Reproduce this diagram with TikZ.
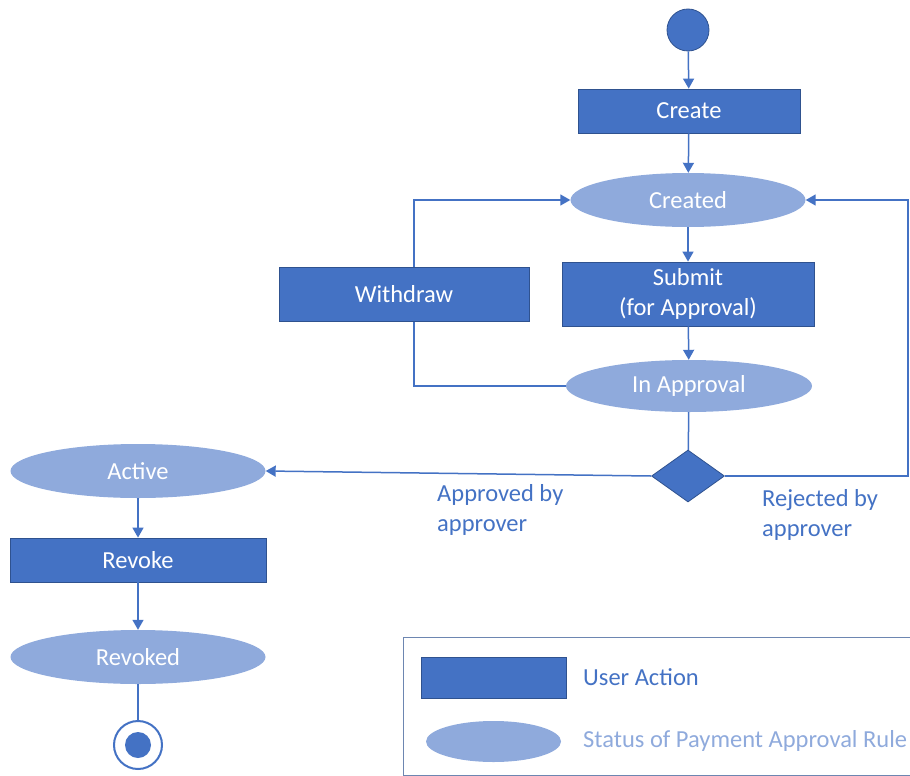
\documentclass[tikz,border=0pt]{standalone}
\usepackage{fontspec}
\setmainfont{Carlito}
\usetikzlibrary{shapes.geometric,arrows.meta}
\definecolor{dblue}{HTML}{4472C4}
\definecolor{lblue}{HTML}{8FAADC}
\definecolor{bord}{HTML}{2F528F}
\tikzset{
  actbox/.style={rectangle,fill=dblue,draw=bord,line width=0.8pt,text=white,font=\fontsize{24.5}{29.5}\selectfont,inner sep=0pt,align=center},
  statell/.style={ellipse,fill=lblue,draw=none,text=white,font=\fontsize{24.5}{29.5}\selectfont,inner sep=0pt},
  conn/.style={draw=dblue,line width=1.5pt},
  arr/.style={conn,-{Triangle[length=10pt,width=11pt]}},
  lbl/.style={text=dblue,font=\fontsize{24.5}{30}\selectfont,align=left,inner sep=0pt,anchor=west},
}
\begin{document}
\begin{tikzpicture}[x=1pt,y=-1pt]
\useasboundingbox (0,0) rectangle (910,776);
% nodes
\node[circle,fill=dblue,draw=bord,line width=0.8pt,minimum size=42pt,inner sep=0pt] (start) at (688,30) {};
\node[actbox,minimum width=222pt,minimum height=44pt] (create) at (689,111) {Create};
\node[statell,minimum width=235pt,minimum height=54pt] (created) at (688,200) {Created};
\node[actbox,minimum width=252pt,minimum height=64pt] (submit) at (688,294) {Submit\\(for Approval)};
\node[statell,minimum width=246pt,minimum height=52pt] (inapp) at (689,386) {In Approval};
\node[diamond,fill=dblue,draw=bord,line width=0.8pt,minimum width=73pt,minimum height=52pt,inner sep=0pt] (dia) at (688,476) {};
\node[statell,minimum width=255pt,minimum height=54pt] (active) at (138,471) {Active};
\node[actbox,minimum width=256pt,minimum height=44pt] (revoke) at (138,560) {Revoke};
\node[statell,minimum width=255pt,minimum height=54pt] (revoked) at (138,657) {Revoked};
\node[circle,fill=white,draw=dblue,line width=2pt,minimum size=48pt,inner sep=0pt] (end) at (138,745) {};
\node[circle,fill=dblue,minimum size=26pt,inner sep=0pt] (endin) at (138,745) {};
% connectors
\coordinate (wl) at (414,200);
\coordinate (rr) at (908,200);
\draw[arr] (start) -- (create);
\draw[arr] (create) -- (created);
\draw[arr] (created) -- (submit);
\draw[arr] (submit) -- (inapp);
\draw[conn] (inapp) -- (dia);
\draw[arr] (inapp.west) -| (wl) -- (created.west);
\draw[arr] (dia.east) -| (rr) -- (created.east);
\draw[arr] (dia.west) -- (active.east);
\draw[arr] (active) -- (revoke);
\draw[arr] (revoke) -- (revoked);
\draw[conn] (revoked) -- (end);
\node[actbox,minimum width=250pt,minimum height=54pt] (withdraw) at (404,294) {Withdraw};
% labels
\node[lbl] (appr) at (437,510) {Approved by\\approver};
\node[lbl] (rej) at (762,515) {Rejected by\\approver};
% legend
\draw[draw=bord!70,line width=1pt] (403,637) rectangle (915,775);
\node[actbox,minimum width=145pt,minimum height=41pt] (legact) at (493.5,677.5) {};
\node[statell,minimum width=135pt,minimum height=41pt] (legst) at (493.5,741.5) {};
\node[lbl] (legacttxt) at (583,677) {User Action};
\node[lbl,text=lblue] (legsttxt) at (583,741) {Status of Payment Approval Rule};
\end{tikzpicture}
\end{document}
